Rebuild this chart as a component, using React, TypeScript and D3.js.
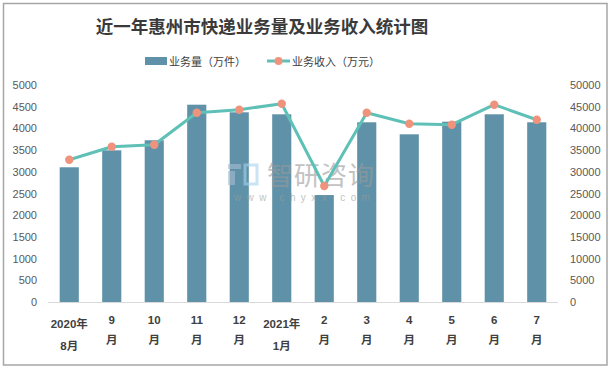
import React, { useRef, useEffect } from "react";
import * as d3 from "d3";

// x-axis labels (two lines each, as the chart wraps them)
const months = ["2020年8月", "9月", "10月", "11月", "12月", "2021年1月", "2月", "3月", "4月", "5月", "6月", "7月"];
const labelLines = [
  ["2020年", "8月"], ["9", "月"], ["10", "月"], ["11", "月"], ["12", "月"], ["2021年", "1月"],
  ["2", "月"], ["3", "月"], ["4", "月"], ["5", "月"], ["6", "月"], ["7", "月"],
];
// 业务量（万件）
const volume = [3104, 3495, 3726, 4546, 4371, 4325, 2465, 4141, 3864, 4154, 4325, 4141];
// 业务收入（万元）
const revenue = [32790, 35780, 36240, 43620, 44310, 45690, 26730, 43620, 41080, 40850, 45460, 42000];
const leftTicks = [0, 500, 1000, 1500, 2000, 2500, 3000, 3500, 4000, 4500, 5000];
const rightTicks = [0, 5000, 10000, 15000, 20000, 25000, 30000, 35000, 40000, 45000, 50000];

const W = 611, H = 369;
const BAR = "#5f92a8", LINE = "#5ec0b6", DOT = "#f0937d";
const FONT = "'Liberation Sans', 'Noto Sans CJK SC', sans-serif";
const CJK = "'Noto Sans CJK SC', sans-serif";

export default function App() {
  const svgRef = useRef(null);

  useEffect(() => {
    const svg = d3.select(svgRef.current);
    svg.selectAll("*").remove();

    const margin = { left: 48, right: 53, top: 85, bottom: 67 };

    // frame
    svg.append("rect")
      .attr("x", 3.5).attr("y", 3.5)
      .attr("width", W - 4 - 3.5).attr("height", H - 4 - 3.5)
      .attr("fill", "#fff").attr("stroke", "#a6a6a6").attr("stroke-width", 1.5);

    // title
    svg.append("text")
      .attr("x", 262).attr("y", 33)
      .attr("text-anchor", "middle")
      .attr("font-family", CJK).attr("font-weight", "bold")
      .attr("font-size", 17.5).attr("fill", "#3a3a3a")
      .text("近一年惠州市快递业务量及业务收入统计图");

    const x = d3.scaleBand().domain(months).range([margin.left, W - margin.right]).paddingInner(0.55).paddingOuter(0.275);
    const yL = d3.scaleLinear().domain([0, 5000]).range([302, 85]);
    const yR = d3.scaleLinear().domain([0, 50000]).range([302, 85]);

    // bars
    svg.append("g").selectAll("rect").data(volume).join("rect")
      .attr("x", (d, i) => x(months[i]))
      .attr("y", d => yL(d))
      .attr("width", x.bandwidth())
      .attr("height", d => yL(0) - yL(d))
      .attr("fill", BAR);

    // x axis line
    svg.append("line")
      .attr("x1", margin.left).attr("x2", W - margin.right)
      .attr("y1", 302.5).attr("y2", 302.5)
      .attr("stroke", "#d9d9d9").attr("stroke-width", 1);

    // watermark (sits over the bars)
    const wm = svg.append("g").attr("opacity", 0.6);
    wm.append("rect").attr("x", 228).attr("y", 164).attr("width", 13).attr("height", 5).attr("fill", "#a9bcd2");
    wm.append("rect").attr("x", 228).attr("y", 171).attr("width", 7).attr("height", 14).attr("fill", "#a9bcd2");
    wm.append("rect").attr("x", 245).attr("y", 165).attr("width", 12).attr("height", 19).attr("fill", "none").attr("stroke", "#a8d3ee").attr("stroke-width", 3);
    wm.append("text").attr("x", 267).attr("y", 185)
      .attr("font-family", CJK).attr("font-size", 26).attr("fill", "#9a9a9a").attr("letter-spacing", 1)
      .text("智研咨询");
    wm.append("text").attr("x", 234).attr("y", 201)
      .attr("font-family", FONT).attr("font-size", 10).attr("fill", "#9a9a9a").attr("letter-spacing", 5.4)
      .text("www.chyxx.com");

    // revenue line
    const cx = (i) => x(months[i]) + x.bandwidth() / 2;
    svg.append("path")
      .datum(revenue)
      .attr("fill", "none").attr("stroke", LINE).attr("stroke-width", 3).attr("stroke-linejoin", "round")
      .attr("d", d3.line().x((d, i) => cx(i)).y(d => yR(d)));
    svg.append("g").selectAll("circle").data(revenue).join("circle")
      .attr("cx", (d, i) => cx(i)).attr("cy", d => yR(d)).attr("r", 4.2).attr("fill", DOT);

    // left axis labels
    svg.append("g").selectAll("text").data(leftTicks).join("text")
      .attr("x", 37).attr("y", d => yL(d) + 4)
      .attr("text-anchor", "end")
      .attr("font-family", FONT).attr("font-size", 11).attr("fill", "#595959")
      .text(d => d);

    // right axis labels
    svg.append("g").selectAll("text").data(rightTicks).join("text")
      .attr("x", 570).attr("y", d => yR(d) + 4)
      .attr("font-family", FONT).attr("font-size", 11).attr("fill", "#595959")
      .text(d => d);

    // x labels
    const xl = svg.append("g").selectAll("text").data(labelLines).join("text")
      .attr("text-anchor", "middle")
      .attr("font-family", FONT).attr("font-weight", "bold").attr("font-size", 11.5).attr("fill", "#404040");
    xl.each(function (d, i) {
      const long = d[0].length > 2;
      const t = d3.select(this);
      t.append("tspan").attr("x", cx(i)).attr("y", long ? 328 : 324).text(d[0]);
      t.append("tspan").attr("x", cx(i)).attr("y", long ? 350 : 344).text(d[1]);
    });

    // legend
    const lg = svg.append("g").attr("font-family", CJK).attr("font-size", 11).attr("fill", "#404040");
    lg.append("rect").attr("x", 145).attr("y", 57).attr("width", 22).attr("height", 8).attr("fill", BAR);
    lg.append("text").attr("x", 169).attr("y", 65.5).text("业务量（万件）");
    lg.append("line").attr("x1", 267).attr("x2", 290).attr("y1", 61).attr("y2", 61).attr("stroke", LINE).attr("stroke-width", 3);
    lg.append("circle").attr("cx", 278.5).attr("cy", 61).attr("r", 4).attr("fill", DOT);
    lg.append("text").attr("x", 292).attr("y", 65.5).text("业务收入（万元）");
  }, []);

  return (
    <div>
      <svg ref={svgRef} width={W} height={H} style={{ position: "absolute", left: 0, top: 0 }} />
    </div>
  );
}
